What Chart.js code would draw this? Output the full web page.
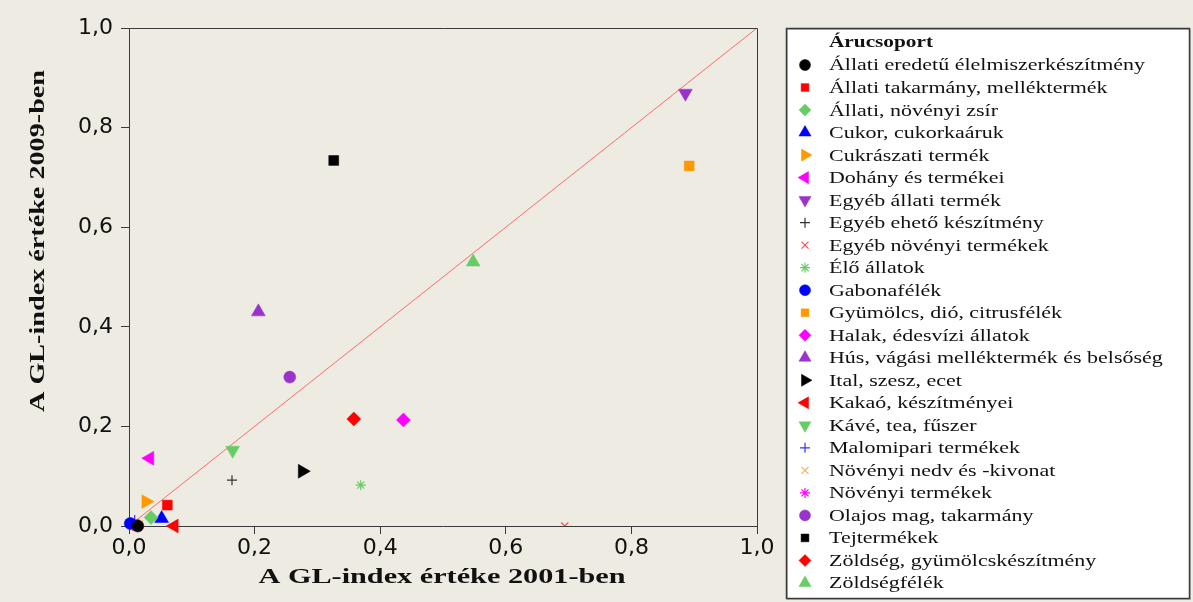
<!DOCTYPE html>
<html>
<head>
<meta charset="utf-8">
<script src="https://cdn.jsdelivr.net/npm/chart.js@4.4.1/dist/chart.umd.min.js"></script>
<style>
  html, body { margin: 0; padding: 0; background: #EEEBE2; }
  #wrap { width: 1193px; height: 602px; position: relative; background: #EEEBE2; }
</style>
</head>
<body>
<div id="wrap"><canvas id="c"></canvas></div>
<script>
// ---- DATA ----
const legendTitle = 'Árucsoport';
const xAxisTitle = 'A GL-index értéke 2001-ben';
const yAxisTitle = 'A GL-index értéke 2009-ben';
const tickValues = [0, 0.2, 0.4, 0.6, 0.8, 1.0];

const categories = [
  'Állati eredetű élelmiszerkészítmény',
  'Állati takarmány, melléktermék',
  'Állati, növényi zsír',
  'Cukor, cukorkaáruk',
  'Cukrászati termék',
  'Dohány és termékei',
  'Egyéb állati termék',
  'Egyéb ehető készítmény',
  'Egyéb növényi termékek',
  'Élő állatok',
  'Gabonafélék',
  'Gyümölcs, dió, citrusfélék',
  'Halak, édesvízi állatok',
  'Hús, vágási melléktermék és belsőség',
  'Ital, szesz, ecet',
  'Kakaó, készítményei',
  'Kávé, tea, fűszer',
  'Malomipari termékek',
  'Növényi nedv és -kivonat',
  'Növényi termékek',
  'Olajos mag, takarmány',
  'Tejtermékek',
  'Zöldség, gyümölcskészítmény',
  'Zöldségfélék'
];
const gl2001 = [0.014, 0.061, 0.035, 0.052, 0.027, 0.033, 0.886, 0.164, 0.694, 0.369, 0.002, 0.892,
                0.437, 0.206, 0.276, 0.072, 0.165, 0.009, 0.017, 0.006, 0.256, 0.326, 0.358, 0.548];
const gl2009 = [0.000, 0.042, 0.017, 0.015, 0.049, 0.136, 0.869, 0.092, 0.000, 0.082, 0.005, 0.723,
                0.213, 0.430, 0.110, 0.000, 0.152, 0.012, 0.004, 0.000, 0.299, 0.734, 0.215, 0.530];
const diagonalX = [0, 1];
const diagonalY = [0, 1];

// ---- STYLES ----
const markerColors = ['#000000', '#ff0000', '#66cc66', '#0000ff', '#ff9900', '#ff00ff', '#9933cc', '#333333',
  '#ff4d4d', '#66cc66', '#0000ff', '#ff9900', '#ff00ff', '#9933cc', '#000000', '#ff0000', '#66cc66',
  '#3333ff', '#ffaa55', '#ff00ff', '#9933cc', '#000000', '#ff0000', '#66cc66'];
const markerShapes = ['circle', 'rect', 'rectRot', 'triangle', 'triangle', 'triangle', 'triangle', 'cross',
  'crossRot', 'star', 'circle', 'rect', 'rectRot', 'triangle', 'triangle', 'triangle', 'triangle',
  'cross', 'crossRot', 'star', 'circle', 'rect', 'rectRot', 'triangle'];
const markerRotations = [0, 0, 0, 0, 90, -90, 180, 0, 0, 0, 0, 0, 0, 0, 90, -90, 180, 0, 0, 0, 0, 0, 0, 0];
const lineShapes = ['cross', 'crossRot', 'star'];

function plotRadius(shape) {
  if (shape === 'triangle') return 8;
  if (shape === 'rect') return 7;
  if (shape === 'rectRot') return 7;
  if (shape === 'circle') return 6;
  return 5;
}
function legendRadius(shape) {
  if (shape === 'triangle') return 7;
  if (shape === 'rect') return 5.5;
  if (shape === 'rectRot') return 6;
  if (shape === 'circle') return 5.5;
  return 5;
}

const datasets = categories.map((name, i) => {
  const isLine = lineShapes.includes(markerShapes[i]);
  return {
    type: 'scatter',
    label: name,
    data: [{ x: gl2001[i], y: gl2009[i] }],
    pointStyle: markerShapes[i],
    rotation: markerRotations[i],
    pointRadius: plotRadius(markerShapes[i]),
    pointHoverRadius: plotRadius(markerShapes[i]),
    backgroundColor: markerColors[i],
    borderColor: markerColors[i],
    borderWidth: isLine ? 1.2 : 0.5,
    clip: markerShapes[i] === 'crossRot' && gl2009[i] === 0 ? 0 : false
  };
});
datasets.push({
  type: 'line',
  label: 'diagonal',
  data: diagonalX.map((x, i) => ({ x: x, y: diagonalY[i] })),
  borderColor: '#ff6a6a',
  borderWidth: 1,
  pointRadius: 0,
  fill: false
});

const fmt = v => v.toFixed(1).replace('.', ',');

function drawMarker(ctx, shape, rotation, radius, color, x, y) {
  ctx.save();
  ctx.fillStyle = color;
  ctx.strokeStyle = color;
  ctx.lineWidth = lineShapes.includes(shape) ? 1.2 : 0.5;
  Chart.helpers.drawPoint(ctx, { pointStyle: shape, rotation: rotation, radius: radius, borderWidth: ctx.lineWidth }, x, y);
  ctx.restore();
}

const decorPlugin = {
  id: 'decor',
  afterDraw(chart) {
    const ctx = chart.ctx;
    const a = chart.chartArea;
    // frame top/right
    ctx.save();
    ctx.strokeStyle = '#3a3a3a';
    ctx.lineWidth = 1;
    ctx.beginPath();
    ctx.moveTo(a.left, a.top + 0.5);
    ctx.lineTo(a.right + 0.5, a.top + 0.5);
    ctx.lineTo(a.right + 0.5, a.bottom);
    ctx.stroke();
    ctx.restore();

    // axis titles (horizontally stretched serif, like the reference)
    ctx.save();
    ctx.fillStyle = '#111';
    ctx.font = 'bold 21px "Liberation Serif"';
    ctx.textAlign = 'center';
    ctx.textBaseline = 'middle';
    let w = ctx.measureText(xAxisTitle).width;
    let sx = 367 / w;
    ctx.translate((a.left + a.right) / 2 - 1, 578);
    ctx.scale(sx, 1);
    ctx.fillText(xAxisTitle, 0, 0);
    ctx.restore();

    ctx.save();
    ctx.fillStyle = '#111';
    ctx.font = 'bold 21px "Liberation Serif"';
    ctx.textAlign = 'center';
    ctx.textBaseline = 'middle';
    w = ctx.measureText(yAxisTitle).width;
    sx = 342 / w;
    ctx.translate(39, 241);
    ctx.rotate(-Math.PI / 2);
    ctx.scale(sx, 1);
    ctx.fillText(yAxisTitle, 0, 0);
    ctx.restore();

    // legend box
    const bx = 786, by = 28, bw = 403, bh = 570;
    ctx.save();
    ctx.fillStyle = '#ffffff';
    ctx.fillRect(bx, by, bw, bh);
    ctx.strokeStyle = '#bdbdbd';
    ctx.lineWidth = 1;
    ctx.strokeRect(bx + 1.5, by + 1.5, bw, bh);
    ctx.strokeStyle = '#3a3a3a';
    ctx.lineWidth = 1.5;
    ctx.strokeRect(bx + 0.5, by + 0.5, bw, bh);
    ctx.restore();

    const textX = 829, markX = 805, rowY0 = 65, rowH = 22.52;
    ctx.save();
    ctx.fillStyle = '#111';
    ctx.textAlign = 'left';
    ctx.textBaseline = 'middle';
    ctx.font = 'bold 17px "Liberation Serif"';
    let tw = ctx.measureText(legendTitle).width;
    ctx.translate(textX, 43);
    ctx.scale(104 / tw, 1);
    ctx.fillText(legendTitle, 0, 0);
    ctx.restore();

    ctx.save();
    ctx.font = '17px "Liberation Serif"';
    const ref = ctx.measureText(categories[0]).width;
    const lsx = 316 / ref;
    ctx.restore();

    categories.forEach((name, i) => {
      const y = rowY0 + i * rowH;
      const shape = markerShapes[i];
      drawMarker(ctx, shape, markerRotations[i], legendRadius(shape), markerColors[i], markX, y);
      ctx.save();
      ctx.fillStyle = '#111';
      ctx.font = '17px "Liberation Serif"';
      ctx.textAlign = 'left';
      ctx.textBaseline = 'middle';
      ctx.translate(textX, y + 1);
      ctx.scale(lsx, 1);
      ctx.fillText(name, 0, 0);
      ctx.restore();
    });
  }
};

const tickFont = { family: '"DejaVu Sans", Verdana, sans-serif', size: 22 };

new Chart(document.getElementById('c'), {
  type: 'scatter',
  data: { datasets: datasets },
  options: {
    responsive: true,
    maintainAspectRatio: false,
    animation: false,
    events: [],
    layout: { padding: { left: 0, top: 28, right: 436, bottom: 0 } },
    plugins: { legend: { display: false }, tooltip: { enabled: false } },
    scales: {
      x: {
        type: 'linear', min: 0, max: 1,
        afterBuildTicks: s => { s.ticks = tickValues.map(v => ({ value: v })); },
        afterFit: s => { s.height = 76; },
        ticks: { callback: v => fmt(v), font: tickFont, color: '#111', padding: 1, maxRotation: 0 },
        grid: { drawOnChartArea: false, tickLength: 8, color: '#3a3a3a' },
        border: { color: '#3a3a3a', width: 1 }
      },
      y: {
        type: 'linear', min: 0, max: 1,
        afterBuildTicks: s => { s.ticks = tickValues.map(v => ({ value: v })); },
        afterFit: s => { s.width = 129; },
        ticks: { callback: v => fmt(v), font: tickFont, color: '#111', padding: 8 },
        grid: { drawOnChartArea: false, tickLength: 8, color: '#3a3a3a' },
        border: { color: '#3a3a3a', width: 1 }
      }
    }
  },
  plugins: [decorPlugin]
});
</script>
</body>
</html>
